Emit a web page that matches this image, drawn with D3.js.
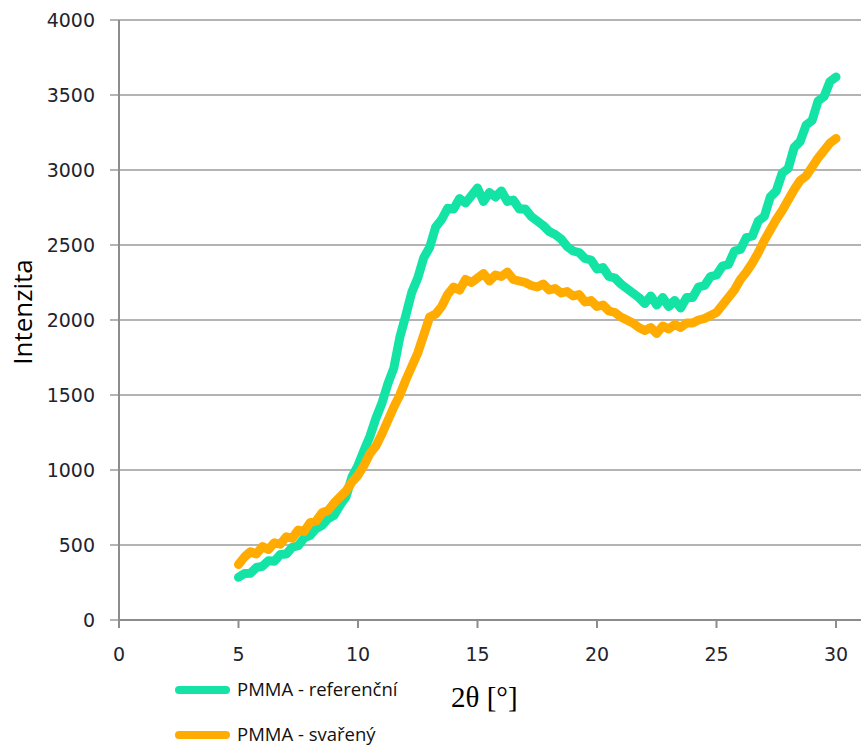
<!DOCTYPE html>
<html>
<head>
<meta charset="utf-8">
<script src="https://cdn.jsdelivr.net/npm/d3@7"></script>
<style>
  body { margin: 0; background: #fff; }
  svg { display: block; }
</style>
</head>
<body>
<div id="contents"></div>
<script>
// 2theta sampling, step 0.25 deg from 5 to 30
var angles = d3.range(0, 101).map(function(i){ return 5 + i * 0.25; });

var referencni = [
    285, 310, 312, 350, 358, 395, 392, 436, 440, 485,
    495, 548, 565, 610, 632, 676, 698, 765, 822, 955,
    1030, 1130, 1225, 1345, 1445, 1575, 1680, 1885, 2030, 2185,
    2280, 2415, 2485, 2620, 2670, 2745, 2740, 2810, 2780, 2830,
    2880, 2790, 2850, 2820, 2860, 2790, 2800, 2740, 2740, 2690,
    2660, 2630, 2590, 2570, 2540, 2490, 2460, 2450, 2410, 2400,
    2340, 2350, 2290, 2280, 2240, 2210, 2180, 2150, 2110, 2160,
    2100, 2150, 2090, 2130, 2080, 2150, 2150, 2220, 2230, 2290,
    2300, 2360, 2370, 2460, 2470, 2550, 2560, 2660, 2690, 2820,
    2860, 2980, 3010, 3150, 3190, 3300, 3330, 3460, 3490, 3590, 3620
];

var svareny = [
    370, 420, 455, 440, 490, 470, 515, 505, 555, 545,
    600, 590, 650, 660, 715, 730, 780, 820, 860, 920,
    965, 1030, 1110, 1160, 1240, 1330, 1420, 1500, 1600, 1690,
    1780, 1900, 2020, 2040, 2090, 2170, 2220, 2200, 2270, 2250,
    2280, 2310, 2260, 2300, 2290, 2320, 2270, 2260, 2250, 2230,
    2220, 2240, 2200, 2210, 2180, 2190, 2160, 2170, 2120, 2130,
    2090, 2100, 2060, 2050, 2020, 2000, 1980, 1950, 1930, 1950,
    1910, 1960, 1940, 1970, 1950, 1980, 1980, 2000, 2010, 2030,
    2050, 2100, 2150, 2200, 2270, 2320, 2380, 2450, 2530, 2600,
    2670, 2730, 2800, 2870, 2930, 2960, 3020, 3080, 3130, 3180, 3210
];

var xTicks = [0, 5, 10, 15, 20, 25, 30];
var yTicks = [0, 500, 1000, 1500, 2000, 2500, 3000, 3500, 4000];
var seriesNames = ['PMMA - referenční', 'PMMA - svařený'];
var seriesColors = ['#14e3a6', '#ffab00'];

var WIDTH  = 861;
var HEIGHT = 745;

var svg = d3.select('#contents').append('svg')
    .attr('width', WIDTH)
    .attr('height', HEIGHT);

var x = d3.scaleLinear().domain([0, 30]).range([119, 836]);
var y = d3.scaleLinear().domain([0, 4000]).range([620, 20]);

// horizontal grid lines with the little tick on the left
svg.append('g')
    .selectAll('line')
    .data(yTicks)
    .enter()
    .append('line')
    .attr('x1', 110)
    .attr('x2', WIDTH)
    .attr('y1', function(d){ return y(d); })
    .attr('y2', function(d){ return y(d); })
    .attr('stroke', '#9b9b9b')
    .attr('stroke-width', 1.6);

// y axis line
svg.append('line')
    .attr('x1', x(0)).attr('x2', x(0))
    .attr('y1', y(4000)).attr('y2', y(0) + 8)
    .attr('stroke', '#8c8c8c')
    .attr('stroke-width', 2);

// x axis line + ticks
svg.append('line')
    .attr('x1', x(0)).attr('x2', WIDTH)
    .attr('y1', y(0)).attr('y2', y(0))
    .attr('stroke', '#8c8c8c')
    .attr('stroke-width', 2);

svg.append('g')
    .selectAll('line')
    .data(xTicks)
    .enter()
    .append('line')
    .attr('x1', function(d){ return x(d); })
    .attr('x2', function(d){ return x(d); })
    .attr('y1', y(0))
    .attr('y2', y(0) + 8)
    .attr('stroke', '#8c8c8c')
    .attr('stroke-width', 2);

// tick labels
svg.append('g')
    .selectAll('text')
    .data(yTicks)
    .enter()
    .append('text')
    .attr('x', 95)
    .attr('y', function(d){ return y(d) + 7; })
    .attr('text-anchor', 'end')
    .attr('font-family', 'DejaVu Sans, Verdana, sans-serif')
    .attr('font-size', 19)
    .attr('fill', '#23232e')
    .text(function(d){ return d; });

svg.append('g')
    .selectAll('text')
    .data(xTicks)
    .enter()
    .append('text')
    .attr('x', function(d){ return x(d); })
    .attr('y', 661)
    .attr('text-anchor', 'middle')
    .attr('font-family', 'DejaVu Sans, Verdana, sans-serif')
    .attr('font-size', 19)
    .attr('fill', '#23232e')
    .text(function(d){ return d; });

// axis titles
svg.append('text')
    .attr('transform', 'translate(32,312) rotate(-90)')
    .attr('text-anchor', 'middle')
    .attr('font-family', 'Open Sans, sans-serif')
    .attr('font-size', 26)
    .attr('fill', '#000')
    .text('Intenzita');

svg.append('text')
    .attr('x', 451)
    .attr('y', 707)
    .attr('font-family', 'Liberation Serif, Times New Roman, serif')
    .attr('font-size', 29)
    .attr('fill', '#000')
    .text('2θ [°]');

// data lines
var line = d3.line()
    .x(function(d){ return x(d[0]); })
    .y(function(d){ return y(d[1]); });

[referencni, svareny].forEach(function(vals, k){
    svg.append('path')
        .datum(angles.map(function(a, i){ return [a, vals[i]]; }))
        .attr('d', line)
        .attr('fill', 'none')
        .attr('stroke', seriesColors[k])
        .attr('stroke-width', 9)
        .attr('stroke-linejoin', 'round')
        .attr('stroke-linecap', 'round');
});

// legend
var legend = svg.append('g')
    .selectAll('g')
    .data(seriesNames)
    .enter()
    .append('g')
    .attr('transform', function(d, i){ return 'translate(0,' + (690 + i * 45) + ')'; });

legend.append('line')
    .attr('x1', 179).attr('x2', 226)
    .attr('y1', 0).attr('y2', 0)
    .attr('stroke', function(d, i){ return seriesColors[i]; })
    .attr('stroke-width', 8)
    .attr('stroke-linecap', 'round');

legend.append('text')
    .attr('x', 237)
    .attr('y', 6)
    .attr('font-family', 'Open Sans, sans-serif')
    .attr('font-size', 18.5)
    .attr('fill', '#111')
    .text(function(d){ return d; });
</script>
</body>
</html>
